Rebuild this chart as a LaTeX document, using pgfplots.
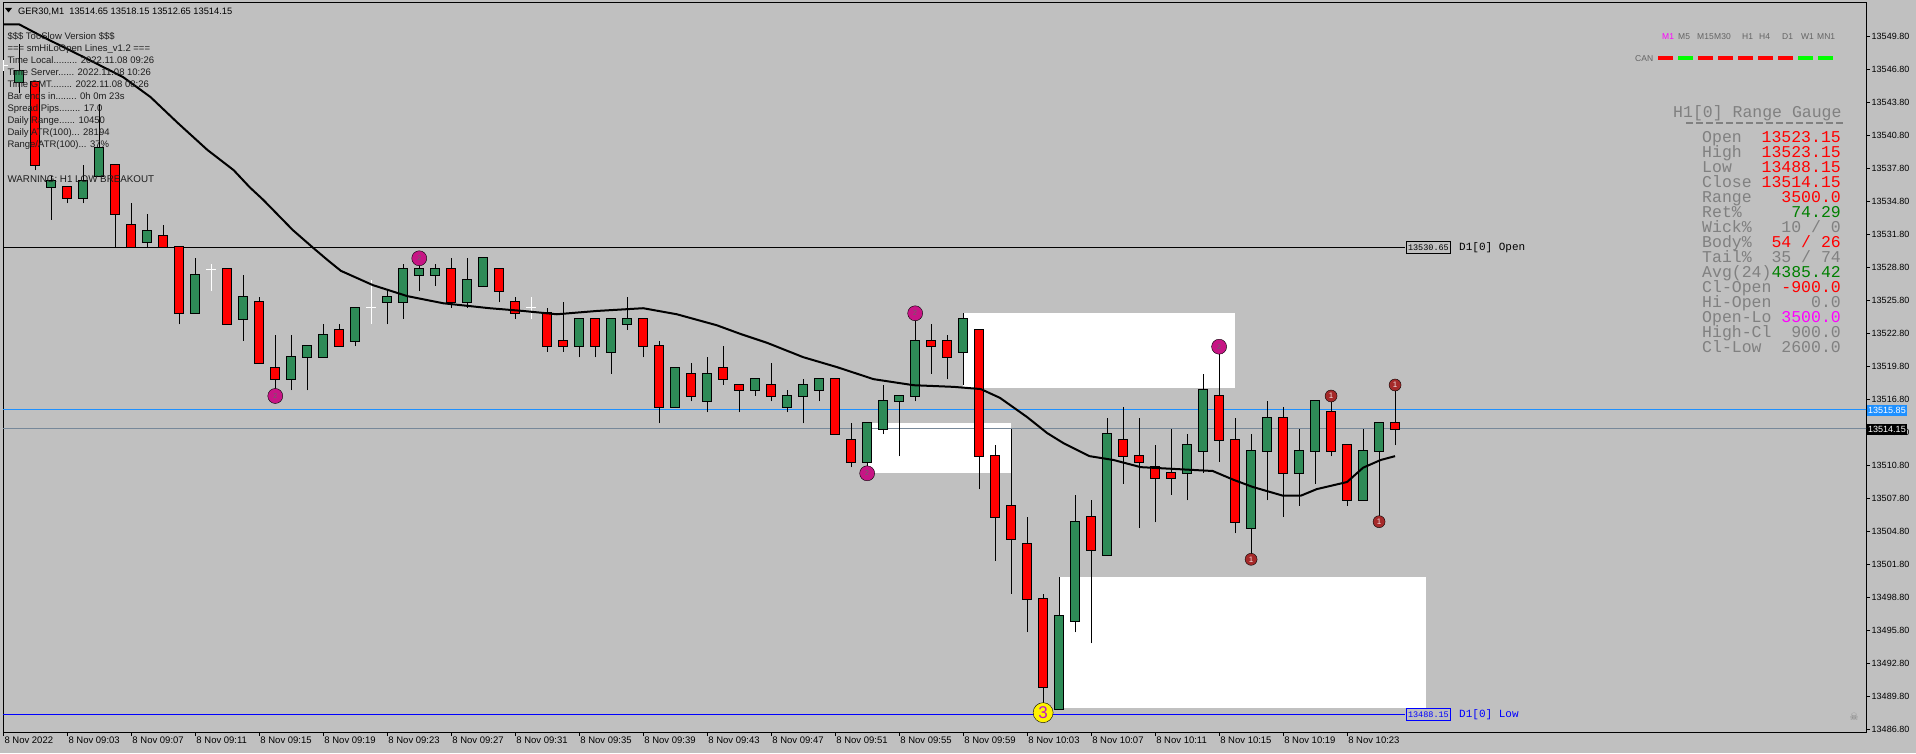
\documentclass[border=0pt]{standalone}
\usepackage{fontspec}
\setmainfont{Liberation Sans}
\newfontfamily\monofont{Liberation Mono}
\newfontfamily\djv{DejaVu Sans}
\usepackage{pgfplots}
\pgfplotsset{compat=1.18}
\usepackage{pgfplotstable}

\definecolor{silverbg}{RGB}{192,192,192}
\definecolor{cgreen}{RGB}{46,139,87}
\definecolor{cred}{RGB}{255,0,0}
\definecolor{dodger}{RGB}{30,144,255}
\definecolor{slategr}{RGB}{119,136,153}
\definecolor{pinkmk}{RGB}{199,21,133}
\definecolor{brownmk}{RGB}{165,42,42}
\definecolor{limeg}{RGB}{0,255,0}
\definecolor{ggray}{RGB}{128,128,128}
\definecolor{ggreen}{RGB}{0,128,0}
\definecolor{tfgray}{RGB}{100,100,100}
\definecolor{infotxt}{RGB}{30,30,30}
\definecolor{magtxt}{RGB}{255,0,255}
\definecolor{threetxt}{RGB}{190,20,200}

% m O H L C
\pgfplotstableread{
m O H L C
1 13545.65 13549.15 13544.65 13546.65
3 13536.15 13537.15 13533.15 13536.65
5 13535.15 13538.15 13534.65 13536.65
6 13537.15 13543.65 13537.15 13539.65
9 13531.15 13533.65 13530.65 13532.15
12 13524.65 13529.65 13524.65 13528.15
15 13524.15 13528.15 13522.15 13526.15
18 13518.65 13522.65 13517.65 13520.65
19 13520.65 13521.65 13517.65 13521.65
20 13520.65 13523.65 13520.65 13522.65
22 13522.15 13525.15 13521.65 13525.15
24 13525.65 13526.65 13523.65 13526.15
25 13525.65 13529.15 13524.15 13528.65
26 13528.15 13529.15 13526.65 13528.65
27 13528.15 13529.15 13527.15 13528.65
29 13525.65 13529.65 13525.15 13527.65
30 13527.15 13529.65 13527.15 13529.65
36 13521.65 13524.15 13520.65 13524.15
38 13521.15 13524.15 13519.15 13524.15
39 13523.65 13526.15 13523.15 13524.15
42 13516.15 13519.65 13516.15 13519.65
44 13516.65 13520.65 13515.65 13519.15
47 13517.65 13518.65 13517.15 13518.65
49 13516.15 13517.65 13515.65 13517.15
50 13517.15 13518.65 13514.65 13518.15
51 13517.65 13518.65 13516.65 13518.65
54 13511.15 13514.65 13510.65 13514.65
55 13514.15 13518.15 13513.65 13516.65
56 13516.65 13517.15 13511.65 13517.15
57 13517.15 13524.15 13516.65 13522.15
60 13521.15 13524.65 13518.15 13524.15
66 13488.65 13500.65 13488.65 13497.15
67 13496.65 13508.15 13495.65 13505.65
69 13502.65 13515.15 13502.65 13513.65
74 13510.15 13513.65 13507.65 13512.65
75 13512.15 13519.15 13510.15 13517.65
78 13505.15 13513.65 13502.65 13512.15
79 13512.15 13516.65 13507.65 13515.15
81 13510.15 13514.15 13507.15 13512.15
82 13512.15 13516.65 13509.15 13516.65
85 13507.65 13514.15 13507.65 13512.15
86 13512.15 13514.65 13506.15 13514.65
}\upc

\pgfplotstableread{
m O H L C
2 13545.65 13545.65 13537.65 13538.15
4 13536.15 13536.15 13534.65 13535.15
7 13538.15 13538.15 13530.65 13533.65
8 13532.65 13534.65 13530.65 13530.65
10 13531.65 13532.65 13530.65 13530.65
11 13530.65 13530.65 13523.65 13524.65
14 13528.65 13528.65 13523.65 13523.65
16 13525.65 13526.15 13520.15 13520.15
17 13519.65 13522.65 13517.65 13518.65
21 13523.15 13523.65 13521.65 13521.65
28 13528.65 13529.65 13525.15 13525.65
31 13528.65 13528.65 13525.65 13526.65
32 13525.65 13526.15 13524.15 13524.65
34 13524.65 13525.15 13521.15 13521.65
35 13522.15 13525.65 13521.15 13521.65
37 13524.15 13524.15 13520.65 13521.65
40 13524.15 13524.15 13520.65 13521.65
41 13521.65 13522.15 13514.65 13516.15
43 13519.15 13520.15 13516.65 13517.15
45 13519.65 13521.65 13518.15 13518.65
46 13518.15 13518.15 13515.65 13517.65
48 13518.15 13520.15 13516.65 13517.15
52 13518.65 13518.65 13513.65 13513.65
53 13513.15 13514.65 13510.65 13511.15
58 13522.15 13523.65 13519.15 13521.65
59 13522.15 13522.65 13518.65 13520.65
61 13523.15 13523.15 13508.65 13511.65
62 13511.65 13512.65 13502.15 13506.15
63 13507.15 13514.15 13499.15 13504.15
64 13503.65 13506.15 13495.65 13498.65
65 13498.65 13499.15 13488.15 13490.65
68 13506.15 13507.65 13494.65 13503.15
70 13513.15 13516.15 13509.15 13511.65
71 13511.65 13515.15 13505.15 13511.15
72 13510.65 13512.65 13505.65 13509.65
73 13510.15 13514.15 13508.15 13509.65
76 13517.15 13521.15 13511.15 13513.15
77 13513.15 13515.15 13504.65 13505.65
80 13515.15 13516.15 13506.15 13510.15
83 13515.65 13516.65 13511.65 13512.15
84 13512.65 13512.65 13507.15 13507.65
87 13514.65 13518.15 13512.65 13514.15
}\dnc

\pgfplotstableread{
m O H L C
0 13547.15 13547.65 13546.65 13547.15
13 13528.65 13529.15 13526.65 13528.65
23 13525.15 13527.65 13523.65 13525.15
33 13525.15 13526.15 13524.15 13525.15
}\djc

\newcommand{\gfont}{\monofont\fontsize{16.5}{16.5}\selectfont}
\newcommand{\grow}[4]{%
  \node[anchor=base west, inner sep=0pt, text=ggray, font=\gfont] at (1702,#1) {#2};
  \node[anchor=base east, inner sep=0pt, text=#3, font=\gfont] at (1841,#1) {#4};}
\newcommand{\infofont}{\fontsize{9.5}{11}\selectfont}
\newcommand{\iline}[2]{\node[anchor=base west, inner sep=0pt, text=infotxt, font=\infofont] at (7.3,#1) {#2};}
\newcommand{\tfl}[3]{\node[anchor=base west, inner sep=0pt, text=#3, font=\fontsize{8.5}{10}\selectfont] at (#1,713.7) {#2};}

\pgfplotsset{candle/.style={only marks, mark size=0pt, mark options={draw=none, fill=none}}}

\begin{document}
\begin{tikzpicture}[x=1pt,y=1pt]
\fill[silverbg] (0,0) rectangle (1916,753);
\useasboundingbox (0,0) rectangle (1916,753);
\begin{axis}[
  at={(3pt,21pt)}, anchor=south west,
  width=1863pt, height=729pt, scale only axis,
  xmin=-0.02, xmax=116.44, ymin=13486.57, ymax=13552.85,
  axis line style={black, line width=1pt},
  tick style={black, line width=1pt},
  tick align=outside, major tick length=4pt,
  xtick pos=left, ytick pos=right,
  scaled y ticks=false, scaled x ticks=false,
  xtick={0,4,...,84},
  xticklabels={8 Nov 2022, 8 Nov 09:03, 8 Nov 09:07, 8 Nov 09:11, 8 Nov 09:15, 8 Nov 09:19, 8 Nov 09:23, 8 Nov 09:27, 8 Nov 09:31, 8 Nov 09:35, 8 Nov 09:39, 8 Nov 09:43, 8 Nov 09:47, 8 Nov 09:51, 8 Nov 09:55, 8 Nov 09:59, 8 Nov 10:03, 8 Nov 10:07, 8 Nov 10:11, 8 Nov 10:15, 8 Nov 10:19, 8 Nov 10:23},
  ytick={13486.8,13489.8,13492.8,13495.8,13498.8,13501.8,13504.8,13507.8,13510.8,13513.8,13516.8,13519.8,13522.8,13525.8,13528.8,13531.8,13534.8,13537.8,13540.8,13543.8,13546.8,13549.8},
  xticklabel style={font=\fontsize{9.5}{11}\selectfont, anchor=north west, inner sep=1pt},
  yticklabel style={font=\fontsize{9}{10}\selectfont, anchor=west, inner sep=1.5pt,
    /pgf/number format/.cd, fixed, fixed zerofill, precision=2, 1000 sep={}, assume math mode=true},
]
% zones
\addplot[fill=white, draw=none] coordinates {(60,13517.87) (60,13524.66) (77,13524.66) (77,13517.87)} -- cycle;
\addplot[fill=white, draw=none] coordinates {(54,13510.15) (54,13514.64) (63,13514.64) (63,13510.15)} -- cycle;
\addplot[fill=white, draw=none] coordinates {(66.06,13488.78) (66.06,13500.69) (88.94,13500.69) (88.94,13488.78)} -- cycle;
% levels
\addplot[black, line width=0.8pt] coordinates {(-1,13530.65) (87.6,13530.65)};
\addplot[blue, line width=1pt] coordinates {(-1,13488.15) (87.6,13488.15)};
\addplot[dodger, line width=1pt] coordinates {(-1,13515.85) (120,13515.85)};
\addplot[slategr, line width=1pt] coordinates {(-1,13514.15) (120,13514.15)};
% wicks
\addplot[candle, error bars/.cd, y dir=plus, y explicit, error mark=none, error bar style={line width=1pt, black}]
  table[x=m, y=L, y error plus expr=\thisrow{H}-\thisrow{L}] {\upc};
\addplot[candle, error bars/.cd, y dir=plus, y explicit, error mark=none, error bar style={line width=1pt, black}]
  table[x=m, y=L, y error plus expr=\thisrow{H}-\thisrow{L}] {\dnc};
% bodies: outline
\addplot[candle, error bars/.cd, y dir=both, y explicit, error mark=none, error bar style={line width=10pt, black}]
  table[x=m, y=O, y error plus expr=\thisrow{C}-\thisrow{O}+0.09, y error minus expr=0.09] {\upc};
\addplot[candle, error bars/.cd, y dir=both, y explicit, error mark=none, error bar style={line width=10pt, black}]
  table[x=m, y=C, y error plus expr=\thisrow{O}-\thisrow{C}+0.09, y error minus expr=0.09] {\dnc};
% bodies: fill
\addplot[candle, error bars/.cd, y dir=plus, y explicit, error mark=none, error bar style={line width=8pt, cgreen}]
  table[x=m, y=O, y error plus expr=\thisrow{C}-\thisrow{O}] {\upc};
\addplot[candle, error bars/.cd, y dir=plus, y explicit, error mark=none, error bar style={line width=8pt, cred}]
  table[x=m, y=C, y error plus expr=\thisrow{O}-\thisrow{C}] {\dnc};
% dojis
\addplot[candle, error bars/.cd, x dir=both, x fixed=0.31, y dir=both, y explicit, error mark=none, error bar style={line width=1pt, white}]
  table[x=m, y=O, y error plus expr=\thisrow{H}-\thisrow{O}, y error minus expr=\thisrow{O}-\thisrow{L}] {\djc};
% moving average
\addplot[black, line width=2pt] coordinates {
(0,13550.9) (1,13550.9) (2.5,13549.75) (5,13547.95) (7.5,13546.1) (9.2,13544.3) (10.9,13541.95) (12.75,13539.5) (14.4,13537.65) (15.4,13536.1) (16.25,13534.95) (18.1,13532.2) (19.4,13530.55) (20.25,13529.5) (21.1,13528.5) (23.1,13527.2) (25.25,13526.2) (27.5,13525.55) (30.4,13525.1) (32.5,13524.85) (34.6,13524.55) (37.1,13524.85) (40,13525.1) (42.1,13524.55) (44.6,13523.55) (46.1,13522.75) (47.75,13521.95) (50,13520.65) (52.1,13519.75) (54.4,13518.65) (56.9,13518.1) (59.4,13517.95) (61.1,13517.75) (62.3,13516.95) (64,13515.2) (65.25,13513.75) (66.25,13512.85) (67.9,13511.65) (69.4,13511.3) (71.1,13510.65) (75.6,13510.3) (76.9,13509.5) (78.1,13508.85) (80,13508.05) (81.1,13508.05) (82.1,13508.65) (84,13509.3) (85,13510.6) (86.1,13511.3) (87,13511.65)};
% signal markers
\addplot[only marks, mark=*, mark size=7.5pt, mark options={fill=pinkmk, draw=none},
  nodes near coords={2}, every node near coord/.append style={anchor=center, inner sep=0pt, font=\fontsize{7}{7}\selectfont, text=black!60}]
  coordinates {(17,13517.12) (26,13529.64) (54,13510.09) (57,13524.64) (76,13521.6)};
\addplot[only marks, mark=*, mark size=6pt, mark options={fill=brownmk, draw=none},
  nodes near coords={1}, every node near coord/.append style={anchor=center, inner sep=0pt, font=\fontsize{8}{8}\selectfont, text=white!85!brownmk}]
  coordinates {(78,13502.27) (83,13517.12) (86,13505.69) (87,13518.12)};
\addplot[only marks, mark=*, mark size=10pt, mark options={fill=yellow, draw=none},
  nodes near coords={3}, every node near coord/.append style={anchor=center, inner sep=0pt, font=\fontsize{17}{17}\selectfont, text=threetxt}]
  coordinates {(65,13488.33)};
\end{axis}

% header
\fill[black] (5,745) -- (12,745) -- (8.5,740.5) -- cycle;
\node[anchor=base west, inner sep=0pt, font=\fontsize{9.3}{11}\selectfont] at (18,738.7) {GER30,M1\ \ 13514.65 13518.15 13512.65 13514.15};

% info block
\iline{713.7}{\$\$\$ TooSlow Version \$\$\$}
\iline{701.7}{=== smHiLoOpen Lines\_v1.2 ===}
\iline{689.7}{Time Local......... 2022.11.08 09:26}
\iline{677.7}{Time Server...... 2022.11.08 10:26}
\iline{665.7}{Time GMT........ 2022.11.08 08:26}
\iline{653.7}{Bar ends in........ 0h 0m 23s}
\iline{641.7}{Spread Pips........ 17.0}
\iline{629.7}{Daily Range...... 10450}
\iline{617.7}{Daily ATR(100)... 28194}
\iline{605.7}{Range/ATR(100)... 37\%}
\node[anchor=base west, inner sep=0pt, text=infotxt, font=\fontsize{9.8}{11}\selectfont] at (7.3,570) {WARNING: H1 LOW BREAKOUT};

% timeframe strip
\tfl{1662}{M1}{magtxt}
\tfl{1678}{M5}{tfgray}
\tfl{1697}{M15}{tfgray}
\tfl{1714}{M30}{tfgray}
\tfl{1742}{H1}{tfgray}
\tfl{1759}{H4}{tfgray}
\tfl{1782}{D1}{tfgray}
\tfl{1801}{W1}{tfgray}
\tfl{1817}{MN1}{tfgray}
\node[anchor=base west, inner sep=0pt, text=tfgray, font=\fontsize{8.5}{10}\selectfont] at (1635,691.3) {CAN};
\fill[cred] (1658,693) rectangle (1673,697);
\fill[limeg] (1678,693) rectangle (1693,697);
\fill[cred] (1698,693) rectangle (1713,697);
\fill[cred] (1718,693) rectangle (1733,697);
\fill[cred] (1738,693) rectangle (1753,697);
\fill[cred] (1758,693) rectangle (1773,697);
\fill[cred] (1778,693) rectangle (1793,697);
\fill[limeg] (1798,693) rectangle (1813,697);
\fill[limeg] (1818,693) rectangle (1833,697);

% range gauge
\node[anchor=base west, inner sep=0pt, text=ggray, font=\gfont] at (1673,635.7) {H1[0] Range Gauge};
\draw[ggray, line width=1.2pt, dash pattern=on 7pt off 3pt] (1686,630) -- (1843,630);
\grow{610.7}{Open}{cred}{13523.15}
\grow{595.7}{High}{cred}{13523.15}
\grow{580.7}{Low}{cred}{13488.15}
\grow{565.7}{Close}{cred}{13514.15}
\grow{550.7}{Range}{cred}{3500.0}
\grow{535.7}{Ret\%}{ggreen}{74.29}
\grow{520.7}{Wick\%}{ggray}{10 / 0}
\grow{505.7}{Body\%}{cred}{54 / 26}
\grow{490.7}{Tail\%}{ggray}{35 / 74}
\grow{475.7}{Avg(24)}{ggreen}{4385.42}
\grow{460.7}{Cl-Open}{cred}{-900.0}
\grow{445.7}{Hi-Open}{ggray}{0.0}
\grow{430.7}{Open-Lo}{magtxt}{3500.0}
\grow{415.7}{High-Cl}{ggray}{900.0}
\grow{400.7}{Cl-Low}{ggray}{2600.0}

% level labels
\node[draw=black, line width=1pt, inner sep=1.5pt, anchor=west, minimum height=12pt, font=\monofont\fontsize{8.5}{10}\selectfont] at (1406,505) {13530.65};
\node[anchor=west, inner sep=0pt, font=\monofont\fontsize{11}{12}\selectfont] at (1459,505) {D1[0] Open};
\node[draw=blue, text=blue, line width=1pt, inner sep=1.5pt, anchor=west, minimum height=12pt, font=\monofont\fontsize{8.5}{10}\selectfont] at (1406,38.7) {13488.15};
\node[anchor=west, inner sep=0pt, text=blue, font=\monofont\fontsize{11}{12}\selectfont] at (1459,38.7) {D1[0] Low};

% price tags on axis
\node[fill=dodger, text=white, inner sep=1pt, anchor=west, minimum height=11pt, font=\fontsize{9}{10}\selectfont] at (1867,342.7) {13515.85};
\node[fill=black, text=white, inner sep=1pt, anchor=west, minimum height=11pt, font=\fontsize{9}{10}\selectfont] at (1867,323.7) {13514.15};

% skull
\node[text=gray, font=\djv\fontsize{10}{10}\selectfont] at (1854,36) {☠};
\end{tikzpicture}
\end{document}
